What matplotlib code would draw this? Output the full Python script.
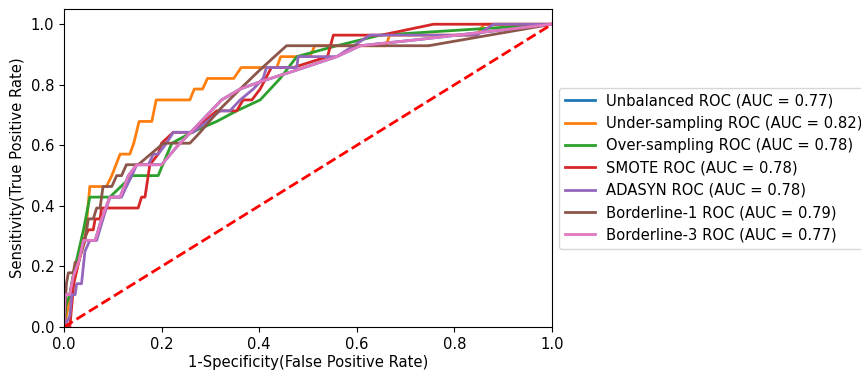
import matplotlib
matplotlib.use("Agg")
import matplotlib.pyplot as plt

# ROC curves (FPR, TPR)
unbalanced_fpr = [0, 0.002, 0.012, 0.019, 0.03, 0.04, 0.064, 0.077, 0.094, 0.115, 0.132, 0.149, 0.2, 0.231,
                  0.323, 0.361, 0.402, 0.47, 0.559, 0.607, 0.73, 1.0]
unbalanced_tpr = [0, 0.107, 0.107, 0.167, 0.214, 0.286, 0.286, 0.357, 0.429, 0.429, 0.5, 0.536, 0.536, 0.595,
                  0.75, 0.786, 0.81, 0.845, 0.893, 0.929, 0.95, 1.0]

under_fpr = [0, 0.005, 0.012, 0.019, 0.03, 0.043, 0.053, 0.087, 0.098, 0.115, 0.135, 0.143, 0.154, 0.180,
             0.189, 0.258, 0.267, 0.284, 0.294, 0.348, 0.363, 0.436, 0.444, 0.504, 0.514, 0.66, 0.667, 0.846,
             0.86, 1.0]
under_tpr = [0, 0.036, 0.1, 0.144, 0.214, 0.287, 0.464, 0.464, 0.5, 0.571, 0.571, 0.607, 0.679, 0.679,
             0.75, 0.75, 0.786, 0.786, 0.821, 0.821, 0.857, 0.857, 0.893, 0.893, 0.929, 0.929, 0.964, 0.964,
             1.0, 1.0]

over_fpr = [0, 0.004, 0.012, 0.02, 0.03, 0.04, 0.053, 0.094, 0.14, 0.193, 0.221, 0.262, 0.313, 0.354,
            0.402, 0.443, 0.477, 0.559, 0.648, 1.0]
over_tpr = [0, 0.071, 0.107, 0.179, 0.25, 0.321, 0.429, 0.429, 0.5, 0.5, 0.607, 0.643, 0.679, 0.714,
            0.75, 0.821, 0.893, 0.929, 0.964, 1.0]

smote_fpr = [0, 0.012, 0.016, 0.02, 0.03, 0.04, 0.05, 0.06, 0.064, 0.074, 0.077, 0.152, 0.159, 0.166,
             0.176, 0.193, 0.2, 0.224, 0.262, 0.313, 0.354, 0.367, 0.385, 0.402, 0.425, 0.47, 0.54,
             0.552, 0.65, 0.757, 1.0]
smote_tpr = [0, 0, 0.071, 0.143, 0.214, 0.286, 0.321, 0.321, 0.357, 0.357, 0.393, 0.393, 0.429, 0.429,
             0.536, 0.571, 0.607, 0.643, 0.643, 0.714, 0.714, 0.75, 0.75, 0.786, 0.857, 0.857, 0.893,
             0.964, 0.964, 1.0, 1.0]

adasyn_fpr = [0, 0.012, 0.016, 0.023, 0.026, 0.036, 0.043, 0.053, 0.067, 0.08, 0.094, 0.118, 0.128, 0.139,
              0.149, 0.173, 0.183, 0.193, 0.21, 0.224, 0.265, 0.32, 0.34, 0.361, 0.388, 0.408, 0.415,
              0.477, 0.48, 0.559, 0.627, 0.846, 0.88, 1.0]
adasyn_tpr = [0, 0.036, 0.107, 0.107, 0.143, 0.143, 0.25, 0.286, 0.286, 0.357, 0.429, 0.429, 0.464, 0.5,
              0.536, 0.536, 0.571, 0.571, 0.607, 0.643, 0.643, 0.714, 0.714, 0.75, 0.786, 0.821, 0.857,
              0.857, 0.893, 0.893, 0.964, 0.964, 1.0, 1.0]

bl1_fpr = [0, 0.005, 0.009, 0.019, 0.023, 0.029, 0.043, 0.05, 0.06, 0.067, 0.074, 0.08, 0.098, 0.108,
           0.118, 0.128, 0.152, 0.204, 0.258, 0.279, 0.32, 0.361, 0.402, 0.456, 0.747, 1.0]
bl1_tpr = [0, 0.143, 0.179, 0.179, 0.214, 0.214, 0.286, 0.357, 0.357, 0.393, 0.393, 0.464, 0.464, 0.5,
           0.5, 0.536, 0.536, 0.607, 0.607, 0.643, 0.72, 0.786, 0.85, 0.929, 0.929, 1.0]

bl3_fpr = unbalanced_fpr
bl3_tpr = unbalanced_tpr

labels = ["Unbalanced ROC (AUC = 0.77)", "Under-sampling ROC (AUC = 0.82)",
          "Over-sampling ROC (AUC = 0.78)", "SMOTE ROC (AUC = 0.78)", "ADASYN ROC (AUC = 0.78)",
          "Borderline-1 ROC (AUC = 0.79)", "Borderline-3 ROC (AUC = 0.77)"]

curves = [(unbalanced_fpr, unbalanced_tpr), (under_fpr, under_tpr), (over_fpr, over_tpr),
          (smote_fpr, smote_tpr), (adasyn_fpr, adasyn_tpr), (bl1_fpr, bl1_tpr), (bl3_fpr, bl3_tpr)]

plt.rcParams["font.size"] = 10.6

fig = plt.figure(figsize=(8.62, 3.79), dpi=100)
ax = fig.add_axes([0.0742, 0.1372, 0.5662, 0.8388])

for (fpr, tpr), lab in zip(curves, labels):
    ax.plot(fpr, tpr, lw=2, label=lab)
ax.plot([0, 1], [0, 1], "r--", lw=2)

ax.set_xlim(0, 1.0)
ax.set_ylim(0, 1.05)
ax.set_xlabel("1-Specificity(False Positive Rate)", labelpad=2)
ax.set_ylabel("Sensitivity(True Positive Rate)")
ax.legend(loc="center left", bbox_to_anchor=(1.0, 0.5))

fig.savefig("out.png", dpi=100)
